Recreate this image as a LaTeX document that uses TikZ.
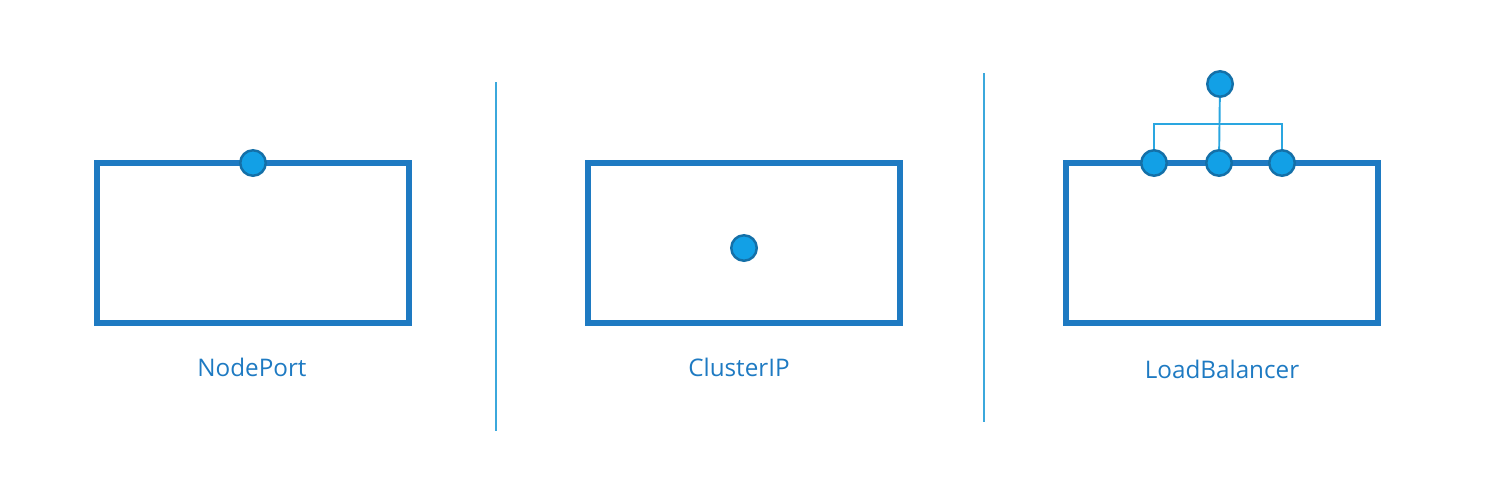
\documentclass[tikz,border=0pt]{standalone}
\usepackage{fontspec}
\setmainfont{Open Sans}
\usetikzlibrary{positioning}
\definecolor{Frame}{HTML}{1E7AC2}
\definecolor{Dot}{HTML}{12A0E6}
\definecolor{DotRim}{HTML}{1470A8}
\definecolor{Link}{HTML}{2AA6E0}
\definecolor{Rule}{HTML}{3BA8DC}

\begin{document}
\begin{tikzpicture}[x=0.02cm,y=-0.02cm,
    frame/.style={draw=Frame,line width=3pt},
    port/.style={circle,fill=Dot,draw=DotRim,line width=1.4pt,minimum size=0.51cm,inner sep=0pt},
    link/.style={draw=Link,line width=1.1pt},
    divider/.style={draw=Rule,line width=0.7pt},
    caption/.style={text=Frame,font=\fontsize{13.8}{16}\selectfont}]
    \useasboundingbox (0,0) rectangle (1509,497);
    % NodePort
    \draw[frame] (97,163) rectangle (409,323);
    \node[port] (np) at (253,163) {};
    \node[caption] (nplabel) at (252,367) {NodePort};
    % dividers
    \draw[divider] (496,82) -- (496,431);
    \draw[divider] (984,73) -- (984,422);
    % ClusterIP
    \draw[frame] (588,163) rectangle (900,323);
    \node[port] (cip) at (744,248) {};
    \node[caption] (ciplabel) at (739,367) {ClusterIP};
    % LoadBalancer
    \draw[frame] (1066,163) rectangle (1378,323);
    \node[port] (lba) at (1154,163) {};
    \node[port] (lbb) at (1219,163) {};
    \node[port] (lbc) at (1282,163) {};
    \node[port] (lbtop) at (1220,84) {};
    \coordinate (bar) at (1219,124);
    \draw[link] (lba.north) |- (bar) -| (lbc.north);
    \draw[link] (lbtop) -- (lbb);
    \node[caption] (lblabel) at (1222,369) {LoadBalancer};
\end{tikzpicture}
\end{document}
